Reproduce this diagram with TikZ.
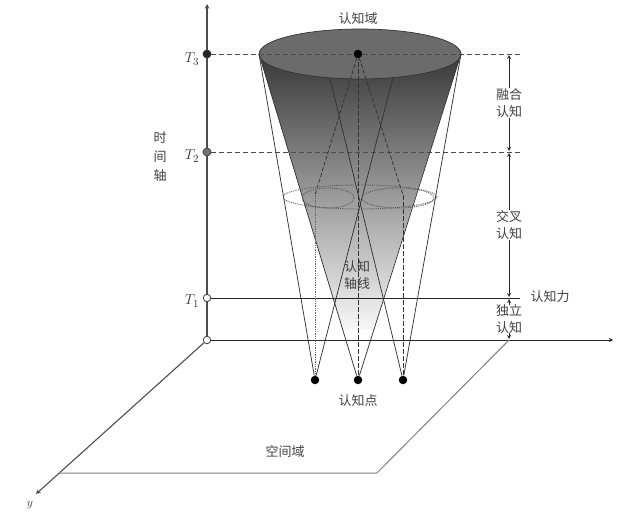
\documentclass[tikz,border=0pt]{standalone}
\usepackage{fontspec}
\newfontfamily\cjk{Noto Sans CJK SC}
\usetikzlibrary{backgrounds}
\begin{document}
\begin{tikzpicture}[x=1pt, y=-1pt, >=stealth, line width=0.7pt,
  texto/.style={font=\cjk\fontsize{13}{16.5}\selectfont, text=black!75, align=center},
  etiqueta/.style={texto, fill=white, inner sep=1pt},
  letra/.style={font=\fontsize{15}{17}\selectfont, text=black!80},
  hueco/.style={circle, draw=black!75, fill=white, line width=0.8pt, inner sep=0pt, minimum size=7.5pt},
  lleno/.style={circle, draw=black!80, inner sep=0pt, minimum size=8pt},
  punto/.style={circle, fill=black, inner sep=0pt, minimum size=8.5pt},
  eje/.style={draw=black!70, line width=1.1pt},
  guia/.style={draw=black!70, line width=0.9pt, dash pattern=on 5pt off 3pt},
  cono/.style={draw=black!80, line width=0.75pt},
  seccion/.style={draw=black!65, line width=0.9pt, densely dotted},
  flecha/.style={<->, draw=black!85, line width=0.8pt, shorten <=1pt, shorten >=1pt}]
\useasboundingbox (0,0) rectangle (617,511);
% Nodos
\node[hueco] (O)  at (207,340) {};
\node[hueco] (T1) at (207,298) {};
\node[lleno, fill=black!55] (T2) at (207,152) {};
\node[lleno, fill=black!85] (T3) at (207,54) {};
\coordinate (Z) at (207,4);
\coordinate (X) at (613,340);
\coordinate (Y) at (36,494);
\node[letra] (t3) at (192,59) {$T_3$};
\node[letra] (t2) at (192,156) {$T_2$};
\node[letra] (t1) at (192,301) {$T_1$};
\node[letra, font=\fontsize{13}{15}\selectfont] (ylab) at (30,505) {$y$};
\node[texto, font=\cjk\fontsize{13}{19}\selectfont] (tiempo) at (160,157) {时\\间\\轴};
% Ejes
\draw[eje] (O) -- (T1);
\draw[eje] (T1) -- (T2);
\draw[eje] (T2) -- (T3);
\draw[eje, ->] (T3) -- (Z);
\draw[eje, draw=black!85, line width=0.9pt, ->] (O) -- (X);
\draw[eje, ->] (O) -- (Y);
% Plano
\coordinate (E1) at (59,473);
\coordinate (E2) at (377,473);
\coordinate (E3) at (509,340);
\draw[draw=black!50, line width=1pt] (E1) -- (E2) -- (E3);
\node[texto] (espacio) at (285,452) {空间域};
% Lineas de tiempo
\coordinate (D3) at (522,54);
\coordinate (D2) at (522,152);
\coordinate (D1) at (520,298);
\draw[guia] (T3) -- (D3);
\draw[guia] (T2) -- (D2);
\draw[draw=black!85, line width=0.9pt] (T1) -- (D1);
% Cono
\begin{scope}[on background layer]
  \shade[top color=black!78, bottom color=black!3] (259,54) -- (461,54) -- (373,330) -- (343,330) -- cycle;
  \draw[draw=black!80, fill=black!58, line width=0.7pt] (360,54) ellipse [x radius=101pt, y radius=25pt];
\end{scope}
\node[punto] (P1) at (315,380) {};
\node[punto] (P2) at (358,380) {};
\node[punto] (P3) at (403,380) {};
\node[punto] (C) at (358,54) {};
\coordinate (Ci) at (259,54);
\coordinate (Cd) at (461,54);
\coordinate (R1) at (393,77.5);
\coordinate (R3) at (330,78);
\coordinate (A1) at (315,195);
\coordinate (A3) at (403,195);
\draw[cono] (P1) -- (Ci);
\draw[cono] (P1) -- (R1);
\draw[cono] (P2) -- (Ci);
\draw[cono] (P2) -- (Cd);
\draw[cono] (P3) -- (R3);
\draw[cono] (P3) -- (Cd);
\draw[cono, dash pattern=on 5pt off 2pt] (P2) -- (C);
\draw[cono, densely dotted, draw=black!60] (P1) -- (A1);
\draw[cono, dash pattern=on 5pt off 2pt] (P3) -- (A3);
\draw[cono, dash pattern=on 4pt off 2pt] (C) -- (A1);
\draw[cono, dash pattern=on 4pt off 2pt] (C) -- (A3);
% Secciones
\draw[seccion] (360,197) ellipse [x radius=77pt, y radius=12pt];
\draw[seccion] (328,198) ellipse [x radius=26pt, y radius=10pt];
\draw[seccion] (398,198) ellipse [x radius=36pt, y radius=10pt];
% Textos
\node[texto] (dominio) at (358,19) {认知域};
\node[texto] (puntos) at (358,401) {认知点};
\node[texto] (axial) at (357,275) {认知\\轴线};
\node[texto, anchor=west] (fuerza) at (527,297) {认知力};
% Etapas
\coordinate (F3) at (509,54);
\coordinate (F2) at (509,152);
\coordinate (F1) at (509,298);
\coordinate (F0) at (509,340);
\draw[flecha] (F3) -- node[etiqueta] (fusion) {融合\\认知} (F2);
\draw[flecha] (F2) -- node[etiqueta] (cruce) {交叉\\认知} (F1);
\draw[flecha] (F1) -- node[etiqueta, inner sep=0pt] (solo) {独立\\认知} (F0);
\end{tikzpicture}
\end{document}
